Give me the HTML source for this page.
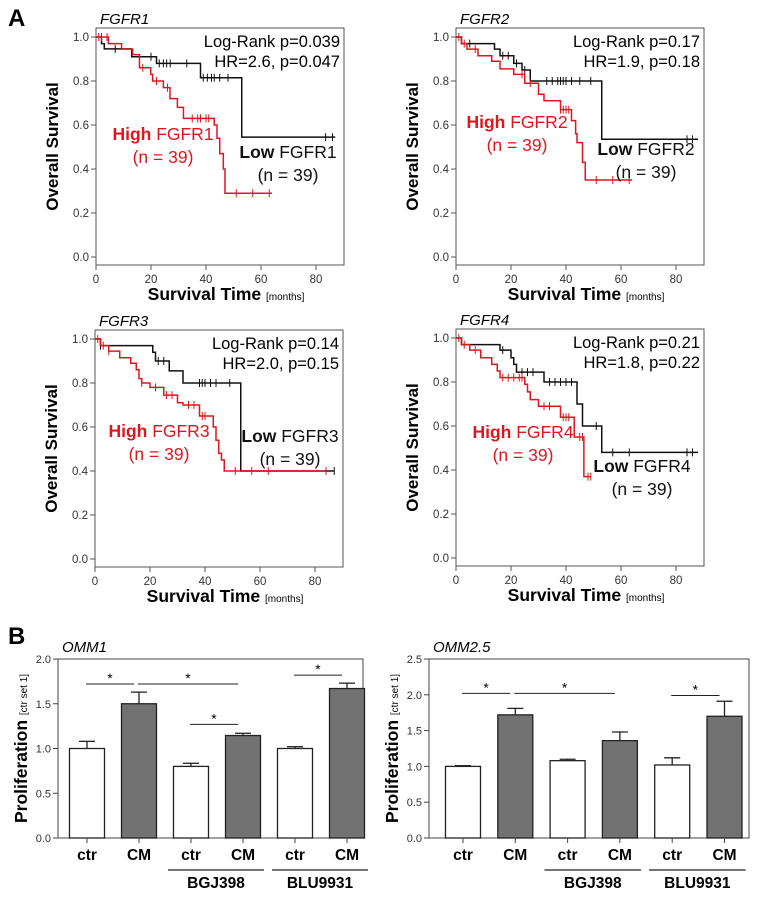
<!DOCTYPE html>
<html><head><meta charset="utf-8">
<style>
html,body{margin:0;padding:0;background:#fff;}
svg{display:block;font-family:"Liberation Sans",Arial,sans-serif;}
</style></head>
<body>
<svg id="fig" width="758" height="897" viewBox="0 0 758 897" xmlns="http://www.w3.org/2000/svg">
<text x="8" y="26" font-size="24" font-weight="bold">A</text>
<text x="8" y="644" font-size="24" font-weight="bold">B</text>
</svg>
<script>
// ---------- KM data ----------
const km1LowT=[2,3,13,22,38,53];   const km1LowS=[0.97,0.946,0.91,0.88,0.815,0.545]; const km1LowEnd=87;
const km1LowC=[7,20,23,24.5,25.7,27,33,39,40.5,42,43,45,48,83.5,86];
const km1HighT=[4.5,9.3,13.3,15.8,19.9,20.6,24.5,26.9,29.6,31.8,43,44,45,46.3,46.9]; const km1HighS=[0.97,0.945,0.92,0.86,0.83,0.80,0.77,0.72,0.68,0.63,0.60,0.54,0.47,0.40,0.29]; const km1HighEnd=64;
const km1HighC=[1,2,4,17,22,26,35,37,38,40,41,51,57,63];

const km2LowT=[2,14,16,21,24,27,53]; const km2LowS=[0.97,0.945,0.915,0.88,0.85,0.80,0.535]; const km2LowEnd=88;
const km2LowC=[5,17,19,22,25,33,35,37,38,39,40,42,45,49,84,86];
const km2HighT=[2,4,8,13,16,21,25,30,32,38,42,43.5,44,46,47]; const km2HighS=[0.97,0.945,0.915,0.89,0.855,0.83,0.79,0.74,0.71,0.67,0.62,0.56,0.52,0.43,0.35]; const km2HighEnd=64;
const km2HighC=[1,3,7,24,27,38,39,40,41,51,57,63];

const km3LowT=[2,21,22,27,32,53]; const km3LowS=[0.97,0.94,0.90,0.855,0.80,0.40]; const km3LowEnd=87;
const km3LowC=[2,23,25,38,39,40,42,44,49,84,87];
const km3HighT=[2,5,9,13,15,16,17,20,25,30,32,38,43,44,45,46,47]; const km3HighS=[0.97,0.945,0.915,0.89,0.86,0.82,0.80,0.78,0.745,0.71,0.70,0.65,0.60,0.54,0.48,0.45,0.40]; const km3HighEnd=84;
const km3HighC=[1,3,5,17,22,26,28,34,36,39,40,51,57,63,84];

const km4LowT=[2,16,20,21,22,32,44,46,53]; const km4LowS=[0.97,0.945,0.91,0.88,0.845,0.80,0.70,0.60,0.48]; const km4LowEnd=88;
const km4LowC=[17,24,26,28,34,36,38,40,42,51,57,63,84,86];
const km4HighT=[2,5,9,13,15,16,25,26,27,30,38,43,46.5]; const km4HighS=[0.97,0.945,0.91,0.88,0.85,0.82,0.79,0.755,0.72,0.69,0.64,0.55,0.37]; const km4HighEnd=49;
const km4HighC=[1,3,7,17,19,21,23,24,32,34,39,40,41,45,46,48,49];

const kmTitles=["FGFR1","FGFR2","FGFR3","FGFR4"];
const kmLogRank=["Log-Rank p=0.039","Log-Rank p=0.17","Log-Rank p=0.14","Log-Rank p=0.21"];
const kmHR=["HR=2.6, p=0.047","HR=1.9, p=0.18","HR=2.0, p=0.15","HR=1.8, p=0.22"];
const kmXTicks=[0,20,40,60,80];
const kmYTicks=[0.0,0.2,0.4,0.6,0.8,1.0];

// ---------- Bar data ----------
const barCats=["ctr","CM","ctr","CM","ctr","CM"];
const omm1Vals=[1.0,1.5,0.80,1.145,1.0,1.67];
const omm1Err=[0.08,0.13,0.035,0.025,0.02,0.06];
const omm2Vals=[1.0,1.72,1.08,1.36,1.02,1.70];
const omm2Err=[0.01,0.09,0.02,0.12,0.10,0.21];
const omm1Sig=[[0,1,1.72],[1,3,1.72],[2,3,1.27],[4,5,1.82]];
const omm2Sig=[[0,1,2.02],[1,3,2.02],[4,5,1.99]];
const omm1YTicks=[0.0,0.5,1.0,1.5,2.0];
const omm2YTicks=[0.0,0.5,1.0,1.5,2.0,2.5];

const NS="http://www.w3.org/2000/svg";
const svg=document.getElementById('fig');
function mk(tag,attrs,parent,txt){const e=document.createElementNS(NS,tag);for(const k in attrs)e.setAttribute(k,attrs[k]);if(txt!==undefined)e.textContent=txt;(parent||svg).appendChild(e);return e;}

function stepVal(T,S,t){let v=1;for(let i=0;i<T.length;i++){if(t>=T[i])v=S[i];}return v;}

function drawKM(i,ox,oy,low,high,lab){
  const g=mk('g',{});
  
  
  const x0=ox,y1=oy,y0=oy+220,boxT=oy-9,boxB=oy+228,boxR=ox+248;
  const xs=t=>x0+t*2.75, ys=v=>y0-v*220;
  const box=mk('rect',{x:x0,y:boxT,width:boxR-x0,height:boxB-boxT,fill:'none',stroke:'#555','stroke-width':1},g);
  
  kmYTicks.forEach(v=>{mk('line',{x1:x0-5,x2:x0,y1:ys(v),y2:ys(v),stroke:'#555'},g);
    const t=mk('text',{x:x0-7,y:ys(v)+4,'font-size':11.5,'text-anchor':'end',fill:'#333'},g,v.toFixed(1));
    });
  kmXTicks.forEach(v=>{mk('line',{x1:xs(v),x2:xs(v),y1:boxB,y2:boxB+5,stroke:'#555'},g);
    const t=mk('text',{x:xs(v),y:boxB+18,'font-size':11.5,'text-anchor':'middle',fill:'#333'},g,String(v));
    });
  const yt=mk('text',{x:0,y:0,'font-size':17,'font-weight':'bold','text-anchor':'middle',transform:`translate(${x0-38},${(boxT+boxB)/2}) rotate(-90)`},g,'Overall Survival');
  
  const xt=mk('text',{x:x0+130,y:boxB+35,'font-size':17.5,'font-weight':'bold','text-anchor':'middle'},g);
  
  mk('tspan',{},xt,'Survival Time ');mk('tspan',{'font-size':10,'font-weight':'normal'},xt,'[months]');
  const ti=mk('text',{x:x0+4,y:boxT-4,'font-size':15,'font-style':'italic'},g,kmTitles[i]);
  
  const l1=mk('text',{x:boxR-4,y:oy+10,'font-size':16.5,'text-anchor':'end'},g,kmLogRank[i]);
  
  const l2=mk('text',{x:boxR-4,y:oy+30,'font-size':16.5,'text-anchor':'end'},g,kmHR[i]);
  
  [[low,'#111','low'],[high,'#e0161e','high']].forEach(([d,c,nm])=>{
    let p=`M${xs(0)},${ys(1)}`;
    d.T.forEach((t,k)=>{p+=` H${xs(t)} V${ys(d.S[k])}`;});
    p+=` H${xs(d.end)}`;
    const path=mk('path',{d:p,fill:'none',stroke:c,'stroke-width':1.5},g);
    
    d.C.forEach(t=>{const yy=ys(stepVal(d.T,d.S,t));
      const m=mk('line',{x1:xs(t),x2:xs(t),y1:yy-4,y2:yy+4,stroke:c,'stroke-width':1},g);
      });
  });
  const hx=x0+lab[0],hy=oy+lab[1];
  const h=mk('text',{x:hx,y:hy,'font-size':17.5,'text-anchor':'middle',fill:'#e0161e'},g);
  
  mk('tspan',{'font-weight':'bold'},h,'High ');mk('tspan',{},h,kmTitles[i]);
  const hn=mk('text',{x:hx,y:hy+23,'font-size':17.5,'text-anchor':'middle',fill:'#e0161e'},g,'(n = 39)');
  
  const lx=x0+lab[2],ly=oy+lab[3];
  const l=mk('text',{x:lx,y:ly,'font-size':17.5,'text-anchor':'middle',fill:'#111'},g);
  
  mk('tspan',{'font-weight':'bold'},l,'Low ');mk('tspan',{},l,kmTitles[i]);
  const ln=mk('text',{x:lx,y:ly+23,'font-size':17.5,'text-anchor':'middle',fill:'#111'},g,'(n = 39)');
  
}
drawKM(0,96,37,{T:km1LowT,S:km1LowS,end:km1LowEnd,C:km1LowC},{T:km1HighT,S:km1HighS,end:km1HighEnd,C:km1HighC},[67,103,192,121]);
drawKM(1,456,37,{T:km2LowT,S:km2LowS,end:km2LowEnd,C:km2LowC},{T:km2HighT,S:km2HighS,end:km2HighEnd,C:km2HighC},[61,91,190,118]);
drawKM(2,95,339,{T:km3LowT,S:km3LowS,end:km3LowEnd,C:km3LowC},{T:km3HighT,S:km3HighS,end:km3HighEnd,C:km3HighC},[64,98,195,103]);
drawKM(3,456,338,{T:km4LowT,S:km4LowS,end:km4LowEnd,C:km4LowC},{T:km4HighT,S:km4HighS,end:km4HighEnd,C:km4HighC},[67,100,186,134]);

function drawBars(name,title,vals,errs,sig,yTicks,ymax,boxL,boxR,cx0,step){
  const g=mk('g',{});
  
  
  const top=659,bot=838;const ys=v=>bot-v/ymax*(bot-top);const xc=i=>cx0+i*step;const bw=35;
  const fr=mk('rect',{x:boxL,y:top,width:boxR-boxL,height:bot-top,fill:'none',stroke:'#444'},g);
  
  yTicks.forEach(v=>{mk('line',{x1:boxL-5,x2:boxL,y1:ys(v),y2:ys(v),stroke:'#444'},g);
    const t=mk('text',{x:boxL-7,y:ys(v)+4,'font-size':11,'text-anchor':'end',fill:'#333'},g,v.toFixed(1));
    });
  vals.forEach((v,i)=>{
    const x=xc(i);
    const el=mk('line',{x1:x,x2:x,y1:ys(v),y2:ys(v+errs[i]),stroke:'#222','stroke-width':1.3},g);
    
    mk('line',{x1:x-8,x2:x+8,y1:ys(v+errs[i]),y2:ys(v+errs[i]),stroke:'#222','stroke-width':1.3},g);
    const r=mk('rect',{x:x-bw/2,y:ys(v),width:bw,height:bot-ys(v),fill:i%2?'#727272':'#fff',stroke:'#222','stroke-width':1.3},g);
    
    mk('line',{x1:x,x2:x,y1:bot,y2:bot+5,stroke:'#444'},g);
    const t=mk('text',{x:x,y:bot+22,'font-size':15.5,'font-weight':'bold','text-anchor':'middle'},g,barCats[i]);
    
  });
  sig.forEach(s=>{const a=xc(s[0])-3,b=xc(s[1])-3,y=ys(s[2]);
    const l=mk('line',{x1:a+2,x2:b-2,y1:y,y2:y,stroke:'#222','stroke-width':1},g);
    
    const t=mk('text',{x:(a+b)/2,y:y-1,'font-size':14,'text-anchor':'middle'},g,'*');
    });
  [['BGJ398',2],['BLU9931',4]].forEach(([n,i])=>{
    const a=xc(i)-step/2+3,b=xc(i+1)+step/2-5;
    const u=mk('line',{x1:a,x2:b,y1:870,y2:870,stroke:'#222','stroke-width':1.2},g);
    
    const t=mk('text',{x:(a+b)/2,y:888,'font-size':15.5,'font-weight':'bold','text-anchor':'middle'},g,n);
    });
  const ti=mk('text',{x:boxL+4,y:652,'font-size':15,'font-style':'italic'},g,title);
  
  const yt=mk('text',{x:0,y:0,'font-size':17.5,'font-weight':'bold','text-anchor':'middle',transform:`translate(${boxL-31},${(top+bot)/2}) rotate(-90)`},g);
  
  mk('tspan',{},yt,'Proliferation ');mk('tspan',{'font-size':10,'font-weight':'normal'},yt,'[ctr set 1]');
}
drawBars('omm1','OMM1',omm1Vals,omm1Err,omm1Sig,omm1YTicks,2.0,58,363,87,52);
drawBars('omm2-5','OMM2.5',omm2Vals,omm2Err,omm2Sig,omm2YTicks,2.5,429,749,463,52.3);
</script>
</body></html>
